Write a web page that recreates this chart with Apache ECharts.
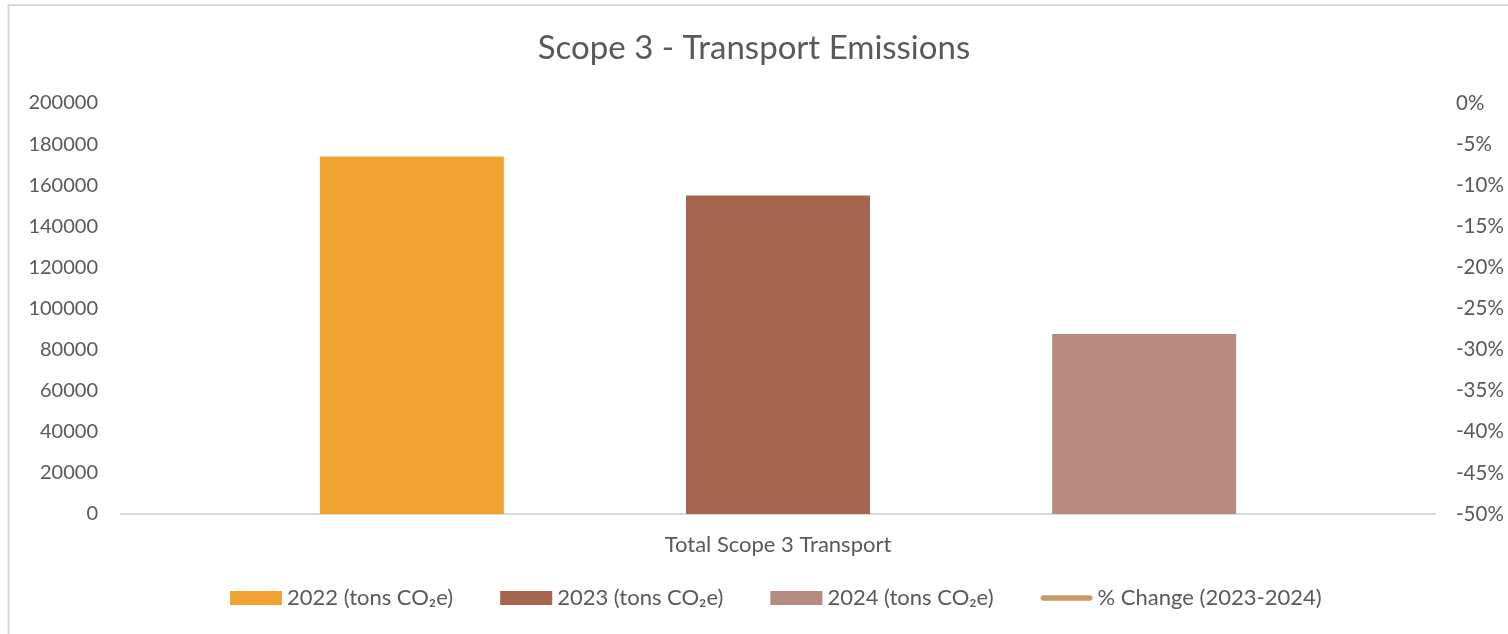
<!DOCTYPE html>
<html><head><meta charset="utf-8">
<script src="https://cdn.jsdelivr.net/npm/echarts@6/dist/echarts.min.js"></script>
<style>html,body{margin:0;padding:0;background:#fff}#c{width:1508px;height:634px}</style>
</head><body><div id="c"></div>
<script>
const categories = ['Total Scope 3 Transport'];
const s2022 = [174000];
const s2023 = [155000];
const s2024 = [87600];
const pctChange = [-43];
const seriesNames = ['2022 (tons CO\u2082e)', '2023 (tons CO\u2082e)', '2024 (tons CO\u2082e)', '% Change (2023-2024)'];

const FONT = 'Lato';
const TXT = '#595959';
const LINE_COLOR = '#C99B6B';
const chart = echarts.init(document.getElementById('c'), null, {renderer: 'canvas'});
chart.setOption({
  animation: false,
  backgroundColor: '#fff',
  textStyle: {fontFamily: FONT, color: TXT},
  graphic: [
    {type: 'line', shape: {x1: 8, y1: 5, x2: 1508, y2: 5}, style: {stroke: '#d9d9d9', lineWidth: 2}},
    {type: 'line', shape: {x1: 8.5, y1: 4, x2: 8.5, y2: 634}, style: {stroke: '#d9d9d9', lineWidth: 2}}
  ],
  title: {
    text: 'Scope 3 - Transport Emissions', left: 'center', top: 27,
    textStyle: {fontFamily: FONT, fontSize: 33, fontWeight: 'normal', color: TXT}
  },
  legend: {
    left: 225, top: 582, itemWidth: 52, itemHeight: 14, itemGap: 47,
    textStyle: {fontFamily: FONT, fontSize: 22, color: TXT},
    data: [
      {name: seriesNames[0], icon: 'rect'},
      {name: seriesNames[1], icon: 'rect'},
      {name: seriesNames[2], icon: 'rect'},
      {name: seriesNames[3], icon: 'path://M3,0 L53,0 A3,3 0 0 1 53,6 L3,6 A3,3 0 0 1 3,0 Z',
       itemStyle: {color: LINE_COLOR, borderWidth: 0}}
    ]
  },
  grid: {left: 121, right: 73, top: 103, bottom: 120},
  xAxis: {
    type: 'category', data: categories,
    axisLine: {lineStyle: {color: '#d9d9d9', width: 2}},
    axisTick: {show: false},
    axisLabel: {fontFamily: FONT, fontSize: 22, color: TXT, margin: 20}
  },
  yAxis: [
    {type: 'value', min: 0, max: 200000, interval: 20000,
     splitLine: {show: false}, axisLine: {show: false}, axisTick: {show: false},
     axisLabel: {fontFamily: FONT, fontSize: 20, color: TXT, margin: 23, formatter: v => String(v)}},
    {type: 'value', min: -50, max: 0, interval: 5, position: 'right',
     splitLine: {show: false}, axisLine: {show: false}, axisTick: {show: false},
     axisLabel: {fontFamily: FONT, fontSize: 20.5, color: TXT, margin: 21, formatter: '{value}%'}}
  ],
  series: [
    {name: seriesNames[0], type: 'bar', data: s2022, barWidth: 184, barGap: '99%', itemStyle: {color: '#F0A330'}},
    {name: seriesNames[1], type: 'bar', data: s2023, barWidth: 184, barGap: '99%', itemStyle: {color: '#A5644E'}},
    {name: seriesNames[2], type: 'bar', data: s2024, barWidth: 184, barGap: '99%', itemStyle: {color: '#B68A7E'}},
    {name: seriesNames[3], type: 'line', yAxisIndex: 1, data: pctChange, showSymbol: false, symbol: 'none',
     lineStyle: {color: LINE_COLOR, width: 4, cap: 'round'}, itemStyle: {color: LINE_COLOR}}
  ]
});
</script></body></html>
